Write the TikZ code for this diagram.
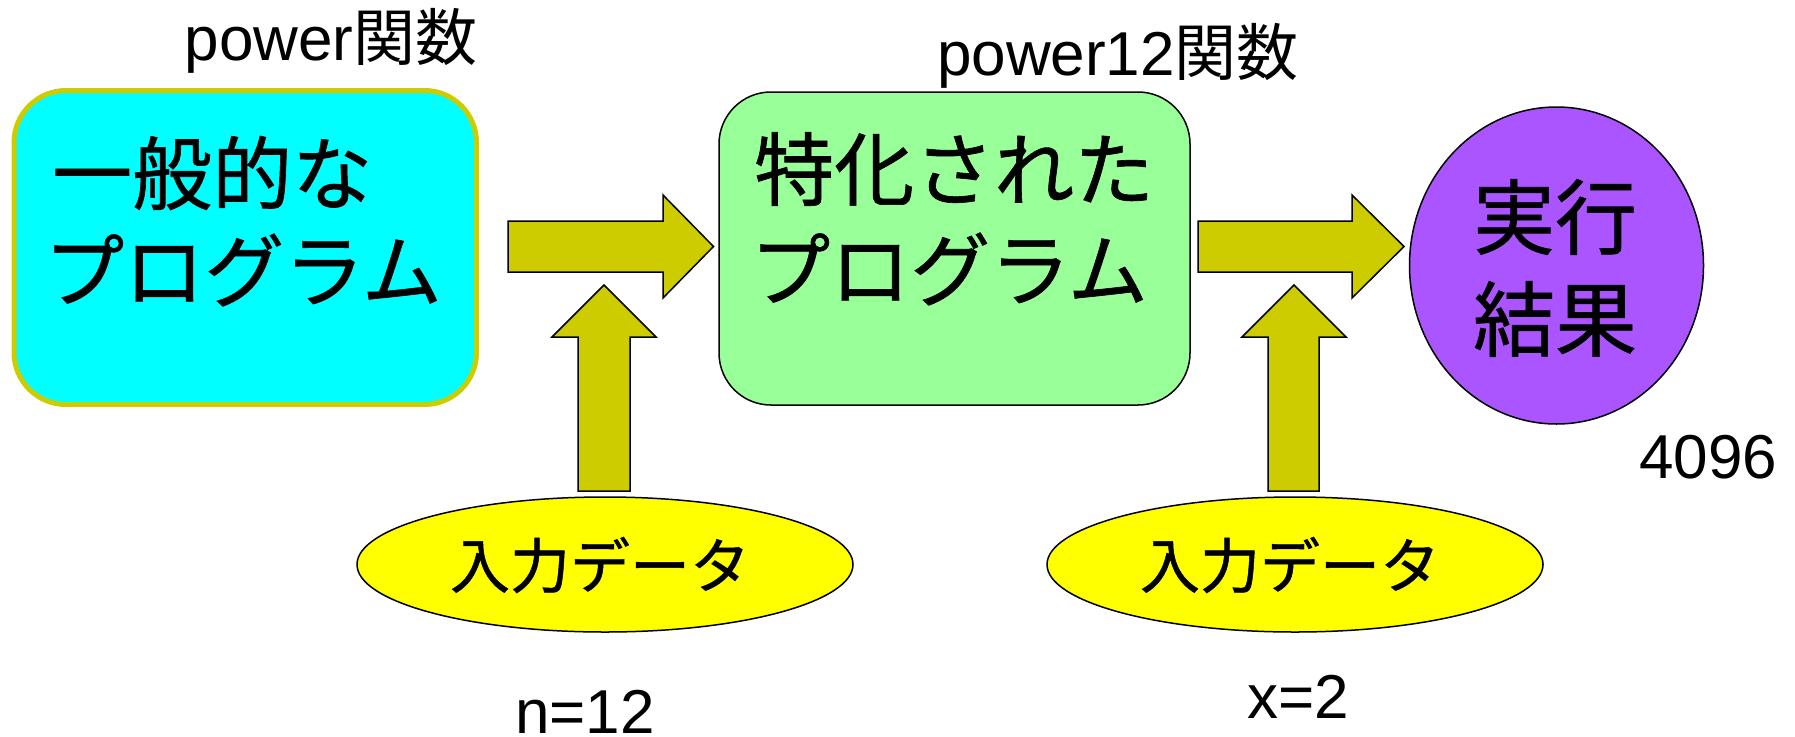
\documentclass[tikz,border=0pt]{standalone}
\usepackage{fontspec}
\setmainfont{Liberation Sans}
\newfontfamily\jp[FakeBold=0.8]{Noto Sans CJK JP}
\newfontfamily\jpl{Noto Sans CJK JP}
\usetikzlibrary{shapes.geometric}
\definecolor{arrowcol}{HTML}{CCCC00}
\definecolor{boxcyan}{HTML}{00FFFF}
\definecolor{boxgreen}{HTML}{99FF99}
\definecolor{resultpurple}{HTML}{AA55FF}
\definecolor{inputyellow}{HTML}{FFFF00}
\tikzset{
  bigjp/.style={font=\fontsize{80}{96}\selectfont\jp, inner sep=0pt},
  resjp/.style={font=\fontsize{82}{96}\selectfont\jp, inner sep=0pt},
  injp/.style={font=\fontsize{60}{72}\selectfont\jp, inner sep=0pt},
  label/.style={font=\fontsize{62}{72}\selectfont, inner sep=0pt, anchor=base},
  blockarrow/.style={fill=arrowcol, draw=black, line width=1.5pt, line join=miter},
  inputell/.style={ellipse, draw=black, line width=1.5pt, fill=inputyellow, minimum width=496pt, minimum height=135pt, inner sep=0pt},
}
\begin{document}
\begin{tikzpicture}[x=1pt,y=-1pt]
\useasboundingbox (0,0) rectangle (1795,736);
% boxes
\node[draw=arrowcol, line width=5pt, fill=boxcyan, rounded corners=52pt,
      minimum width=462.5pt, minimum height=314pt, inner sep=0pt] (gen) at (245.25,247.5) {};
\node[draw=black, line width=1.5pt, fill=boxgreen, rounded corners=52pt,
      minimum width=471pt, minimum height=313pt, inner sep=0pt] (spec) at (954.5,248.5) {};
\node[ellipse, draw=black, line width=1.5pt, fill=resultpurple,
      minimum width=294pt, minimum height=317pt, inner sep=0pt] (res) at (1556.5,265.5) {};
% box texts
\node[bigjp, anchor=west] (gen1) at (52,173) {一般的な};
\node[bigjp, anchor=west] (gen2) at (44,270) {プログラム};
\node[bigjp, anchor=west] (spec1) at (754,169) {特化された};
\node[bigjp, anchor=west] (spec2) at (750,269) {プログラム};
\node[resjp] (res1) at (1555,217) {実行};
\node[resjp] (res2) at (1555,319) {結果};
% titles
\node[label] (gentitle) at (331,60) {power{\jpl 関数}};
\node[label] (spectitle) at (1118,75) {power12{\jpl 関数}};
\node[label] (resval) at (1708,478) {4096};
% input ellipses
\node[inputell] (in1) at (605,564.5) {};
\node[injp] (in1t) at (600,565) {入力データ};
\node[inputell] (in2) at (1295,564.5) {};
\node[injp] (in2t) at (1290,565) {入力データ};
\node[label] (nval) at (585,733) {n=12};
\node[label] (xval) at (1298,718) {x=2};
% block arrows
\draw[blockarrow] (508,221) -- (663,221) -- (663,195) -- (713.5,246.5) -- (663,298) -- (663,272) -- (508,272) -- cycle;
\draw[blockarrow] (1198,221) -- (1352,221) -- (1352,195) -- (1404,246.5) -- (1352,298) -- (1352,272) -- (1198,272) -- cycle;
\draw[blockarrow] (578,491) -- (578,337) -- (552,337) -- (604,285) -- (656,337) -- (630,337) -- (630,491) -- cycle;
\draw[blockarrow] (1268,491) -- (1268,337) -- (1242,337) -- (1294,285) -- (1346,337) -- (1319,337) -- (1319,491) -- cycle;
\end{tikzpicture}
\end{document}
